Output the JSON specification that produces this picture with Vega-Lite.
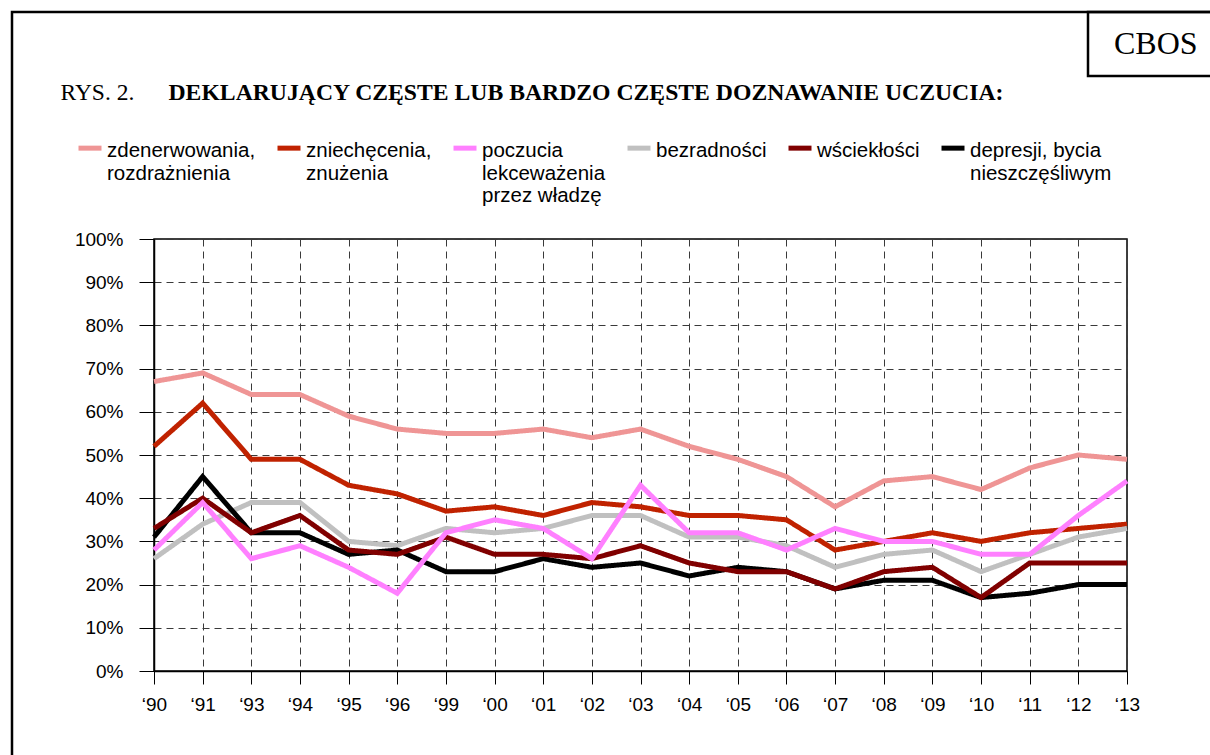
{
  "$schema": "https://vega.github.io/schema/vega-lite/v6.json",
  "width": 973,
  "height": 432,
  "autosize": {"type": "none"},
  "padding": {"left": 154, "top": 239, "right": 83, "bottom": 84},
  "background": "white",
  "config": {
    "view": {"stroke": "black", "strokeWidth": 1.5},
    "legend": {"strokeWidth": 2.5},
    "axis": {
      "labelFont": "Liberation Sans",
      "labelFontSize": 19,
      "labelColor": "black",
      "tickColor": "black",
      "tickWidth": 1,
      "domainColor": "black",
      "domainWidth": 1.5,
      "grid": true,
      "gridDash": [7, 5],
      "gridColor": "#3a3a3a",
      "gridWidth": 1
    }
  },
  "data": {
    "values": [
      {"year": "‘90", "series": "zdenerwowania, rozdrażnienia", "value": 67},
      {"year": "‘91", "series": "zdenerwowania, rozdrażnienia", "value": 69},
      {"year": "‘93", "series": "zdenerwowania, rozdrażnienia", "value": 64},
      {"year": "‘94", "series": "zdenerwowania, rozdrażnienia", "value": 64},
      {"year": "‘95", "series": "zdenerwowania, rozdrażnienia", "value": 59},
      {"year": "‘96", "series": "zdenerwowania, rozdrażnienia", "value": 56},
      {"year": "‘99", "series": "zdenerwowania, rozdrażnienia", "value": 55},
      {"year": "‘00", "series": "zdenerwowania, rozdrażnienia", "value": 55},
      {"year": "‘01", "series": "zdenerwowania, rozdrażnienia", "value": 56},
      {"year": "‘02", "series": "zdenerwowania, rozdrażnienia", "value": 54},
      {"year": "‘03", "series": "zdenerwowania, rozdrażnienia", "value": 56},
      {"year": "‘04", "series": "zdenerwowania, rozdrażnienia", "value": 52},
      {"year": "‘05", "series": "zdenerwowania, rozdrażnienia", "value": 49},
      {"year": "‘06", "series": "zdenerwowania, rozdrażnienia", "value": 45},
      {"year": "‘07", "series": "zdenerwowania, rozdrażnienia", "value": 38},
      {"year": "‘08", "series": "zdenerwowania, rozdrażnienia", "value": 44},
      {"year": "‘09", "series": "zdenerwowania, rozdrażnienia", "value": 45},
      {"year": "‘10", "series": "zdenerwowania, rozdrażnienia", "value": 42},
      {"year": "‘11", "series": "zdenerwowania, rozdrażnienia", "value": 47},
      {"year": "‘12", "series": "zdenerwowania, rozdrażnienia", "value": 50},
      {"year": "‘13", "series": "zdenerwowania, rozdrażnienia", "value": 49},

      {"year": "‘90", "series": "zniechęcenia, znużenia", "value": 52},
      {"year": "‘91", "series": "zniechęcenia, znużenia", "value": 62},
      {"year": "‘93", "series": "zniechęcenia, znużenia", "value": 49},
      {"year": "‘94", "series": "zniechęcenia, znużenia", "value": 49},
      {"year": "‘95", "series": "zniechęcenia, znużenia", "value": 43},
      {"year": "‘96", "series": "zniechęcenia, znużenia", "value": 41},
      {"year": "‘99", "series": "zniechęcenia, znużenia", "value": 37},
      {"year": "‘00", "series": "zniechęcenia, znużenia", "value": 38},
      {"year": "‘01", "series": "zniechęcenia, znużenia", "value": 36},
      {"year": "‘02", "series": "zniechęcenia, znużenia", "value": 39},
      {"year": "‘03", "series": "zniechęcenia, znużenia", "value": 38},
      {"year": "‘04", "series": "zniechęcenia, znużenia", "value": 36},
      {"year": "‘05", "series": "zniechęcenia, znużenia", "value": 36},
      {"year": "‘06", "series": "zniechęcenia, znużenia", "value": 35},
      {"year": "‘07", "series": "zniechęcenia, znużenia", "value": 28},
      {"year": "‘08", "series": "zniechęcenia, znużenia", "value": 30},
      {"year": "‘09", "series": "zniechęcenia, znużenia", "value": 32},
      {"year": "‘10", "series": "zniechęcenia, znużenia", "value": 30},
      {"year": "‘11", "series": "zniechęcenia, znużenia", "value": 32},
      {"year": "‘12", "series": "zniechęcenia, znużenia", "value": 33},
      {"year": "‘13", "series": "zniechęcenia, znużenia", "value": 34},

      {"year": "‘90", "series": "bezradności", "value": 26},
      {"year": "‘91", "series": "bezradności", "value": 34},
      {"year": "‘93", "series": "bezradności", "value": 39},
      {"year": "‘94", "series": "bezradności", "value": 39},
      {"year": "‘95", "series": "bezradności", "value": 30},
      {"year": "‘96", "series": "bezradności", "value": 29},
      {"year": "‘99", "series": "bezradności", "value": 33},
      {"year": "‘00", "series": "bezradności", "value": 32},
      {"year": "‘01", "series": "bezradności", "value": 33},
      {"year": "‘02", "series": "bezradności", "value": 36},
      {"year": "‘03", "series": "bezradności", "value": 36},
      {"year": "‘04", "series": "bezradności", "value": 31},
      {"year": "‘05", "series": "bezradności", "value": 31},
      {"year": "‘06", "series": "bezradności", "value": 29},
      {"year": "‘07", "series": "bezradności", "value": 24},
      {"year": "‘08", "series": "bezradności", "value": 27},
      {"year": "‘09", "series": "bezradności", "value": 28},
      {"year": "‘10", "series": "bezradności", "value": 23},
      {"year": "‘11", "series": "bezradności", "value": 27},
      {"year": "‘12", "series": "bezradności", "value": 31},
      {"year": "‘13", "series": "bezradności", "value": 33},

      {"year": "‘90", "series": "depresji, bycia nieszczęśliwym", "value": 31},
      {"year": "‘91", "series": "depresji, bycia nieszczęśliwym", "value": 45},
      {"year": "‘93", "series": "depresji, bycia nieszczęśliwym", "value": 32},
      {"year": "‘94", "series": "depresji, bycia nieszczęśliwym", "value": 32},
      {"year": "‘95", "series": "depresji, bycia nieszczęśliwym", "value": 27},
      {"year": "‘96", "series": "depresji, bycia nieszczęśliwym", "value": 28},
      {"year": "‘99", "series": "depresji, bycia nieszczęśliwym", "value": 23},
      {"year": "‘00", "series": "depresji, bycia nieszczęśliwym", "value": 23},
      {"year": "‘01", "series": "depresji, bycia nieszczęśliwym", "value": 26},
      {"year": "‘02", "series": "depresji, bycia nieszczęśliwym", "value": 24},
      {"year": "‘03", "series": "depresji, bycia nieszczęśliwym", "value": 25},
      {"year": "‘04", "series": "depresji, bycia nieszczęśliwym", "value": 22},
      {"year": "‘05", "series": "depresji, bycia nieszczęśliwym", "value": 24},
      {"year": "‘06", "series": "depresji, bycia nieszczęśliwym", "value": 23},
      {"year": "‘07", "series": "depresji, bycia nieszczęśliwym", "value": 19},
      {"year": "‘08", "series": "depresji, bycia nieszczęśliwym", "value": 21},
      {"year": "‘09", "series": "depresji, bycia nieszczęśliwym", "value": 21},
      {"year": "‘10", "series": "depresji, bycia nieszczęśliwym", "value": 17},
      {"year": "‘11", "series": "depresji, bycia nieszczęśliwym", "value": 18},
      {"year": "‘12", "series": "depresji, bycia nieszczęśliwym", "value": 20},
      {"year": "‘13", "series": "depresji, bycia nieszczęśliwym", "value": 20},

      {"year": "‘90", "series": "wściekłości", "value": 33},
      {"year": "‘91", "series": "wściekłości", "value": 40},
      {"year": "‘93", "series": "wściekłości", "value": 32},
      {"year": "‘94", "series": "wściekłości", "value": 36},
      {"year": "‘95", "series": "wściekłości", "value": 28},
      {"year": "‘96", "series": "wściekłości", "value": 27},
      {"year": "‘99", "series": "wściekłości", "value": 31},
      {"year": "‘00", "series": "wściekłości", "value": 27},
      {"year": "‘01", "series": "wściekłości", "value": 27},
      {"year": "‘02", "series": "wściekłości", "value": 26},
      {"year": "‘03", "series": "wściekłości", "value": 29},
      {"year": "‘04", "series": "wściekłości", "value": 25},
      {"year": "‘05", "series": "wściekłości", "value": 23},
      {"year": "‘06", "series": "wściekłości", "value": 23},
      {"year": "‘07", "series": "wściekłości", "value": 19},
      {"year": "‘08", "series": "wściekłości", "value": 23},
      {"year": "‘09", "series": "wściekłości", "value": 24},
      {"year": "‘10", "series": "wściekłości", "value": 17},
      {"year": "‘11", "series": "wściekłości", "value": 25},
      {"year": "‘12", "series": "wściekłości", "value": 25},
      {"year": "‘13", "series": "wściekłości", "value": 25},

      {"year": "‘90", "series": "poczucia lekceważenia przez władzę", "value": 28},
      {"year": "‘91", "series": "poczucia lekceważenia przez władzę", "value": 39},
      {"year": "‘93", "series": "poczucia lekceważenia przez władzę", "value": 26},
      {"year": "‘94", "series": "poczucia lekceważenia przez władzę", "value": 29},
      {"year": "‘95", "series": "poczucia lekceważenia przez władzę", "value": 24},
      {"year": "‘96", "series": "poczucia lekceważenia przez władzę", "value": 18},
      {"year": "‘99", "series": "poczucia lekceważenia przez władzę", "value": 32},
      {"year": "‘00", "series": "poczucia lekceważenia przez władzę", "value": 35},
      {"year": "‘01", "series": "poczucia lekceważenia przez władzę", "value": 33},
      {"year": "‘02", "series": "poczucia lekceważenia przez władzę", "value": 26},
      {"year": "‘03", "series": "poczucia lekceważenia przez władzę", "value": 43},
      {"year": "‘04", "series": "poczucia lekceważenia przez władzę", "value": 32},
      {"year": "‘05", "series": "poczucia lekceważenia przez władzę", "value": 32},
      {"year": "‘06", "series": "poczucia lekceważenia przez władzę", "value": 28},
      {"year": "‘07", "series": "poczucia lekceważenia przez władzę", "value": 33},
      {"year": "‘08", "series": "poczucia lekceważenia przez władzę", "value": 30},
      {"year": "‘09", "series": "poczucia lekceważenia przez władzę", "value": 30},
      {"year": "‘10", "series": "poczucia lekceważenia przez władzę", "value": 27},
      {"year": "‘11", "series": "poczucia lekceważenia przez władzę", "value": 27},
      {"year": "‘12", "series": "poczucia lekceważenia przez władzę", "value": 36},
      {"year": "‘13", "series": "poczucia lekceważenia przez władzę", "value": 44}
    ]
  },
  "mark": {"type": "line", "strokeWidth": 5},
  "encoding": {
    "x": {
      "field": "year",
      "type": "ordinal",
      "sort": ["‘90", "‘91", "‘93", "‘94", "‘95", "‘96", "‘99", "‘00", "‘01", "‘02", "‘03", "‘04", "‘05", "‘06", "‘07", "‘08", "‘09", "‘10", "‘11", "‘12", "‘13"],
      "scale": {"type": "point", "padding": 0},
      "axis": {
        "labelAngle": 0,
        "labelPadding": 11,
        "tickSize": 13,
        "title": "DEKLARUJĄCY CZĘSTE LUB BARDZO CZĘSTE DOZNAWANIE UCZUCIA:",
        "titleFont": "Liberation Serif",
        "titleFontSize": 23.7,
        "titleFontWeight": "bold",
        "titleColor": "black",
        "titleAlign": "left",
        "titleBaseline": "alphabetic",
        "titleX": 14,
        "titleY": -572
      }
    },
    "y": {
      "field": "value",
      "type": "quantitative",
      "scale": {"domain": [0, 100]},
      "axis": {
        "values": [0, 10, 20, 30, 40, 50, 60, 70, 80, 90, 100],
        "labelExpr": "datum.value + '%'",
        "tickSize": 15,
        "labelPadding": 16,
        "title": "RYS. 2.",
        "titleAngle": 0,
        "titleFont": "Liberation Serif",
        "titleFontSize": 23.5,
        "titleFontWeight": "normal",
        "titleColor": "black",
        "titleAlign": "left",
        "titleBaseline": "alphabetic",
        "titleX": -94,
        "titleY": -140
      }
    },
    "color": {
      "field": "series",
      "type": "nominal",
      "scale": {
        "domain": ["zdenerwowania, rozdrażnienia", "zniechęcenia, znużenia", "poczucia lekceważenia przez władzę", "bezradności", "wściekłości", "depresji, bycia nieszczęśliwym"],
        "range": ["#EF9595", "#C02200", "#FF80FF", "#C0C0C0", "#800000", "#000000"]
      },
      "legend": {
        "title": null,
        "orient": "none",
        "legendX": -78,
        "legendY": -112,
        "direction": "horizontal",
        "columns": 6,
        "columnPadding": 11,
        "padding": 0,
        "symbolType": "M-1,0.6H1",
        "symbolSize": 529,
        "symbolStrokeWidth": 5,
        "labelOffset": 3,
        "labelFont": "Liberation Sans",
        "labelFontSize": 20.5,
        "labelColor": "black",
        "labelLimit": 400,
        "labelBaseline": "top",
        "labelExpr": "datum.label == 'zdenerwowania, rozdrażnienia' ? ['zdenerwowania,', 'rozdrażnienia', ' '] : datum.label == 'zniechęcenia, znużenia' ? ['zniechęcenia,', 'znużenia', ' '] : datum.label == 'poczucia lekceważenia przez władzę' ? ['poczucia', 'lekceważenia', 'przez władzę'] : datum.label == 'depresji, bycia nieszczęśliwym' ? ['depresji, bycia', 'nieszczęśliwym', ' '] : [datum.label, ' ', ' ']"
      }
    },
    "strokeDash": {
      "datum": "CBOS",
      "type": "nominal",
      "scale": {"range": [[1, 0]]},
      "legend": {
        "title": null,
        "orient": "none",
        "legendX": 934,
        "legendY": -227,
        "padding": 16,
        "strokeColor": "black",
        "symbolOpacity": 0,
        "symbolSize": 0,
        "symbolStrokeWidth": 0,
        "labelOffset": -22,
        "labelFont": "Liberation Serif",
        "labelFontSize": 32,
        "labelColor": "black",
        "labelExpr": "datum.label + '\u00a0\u00a0\u00a0'"
      }
    },
    "strokeWidth": {
      "datum": 5,
      "type": "quantitative",
      "scale": {"domain": [0, 10], "range": [0, 10]},
      "legend": {
        "title": null,
        "orient": "none",
        "legendX": -142,
        "legendY": -227,
        "padding": 600,
        "strokeColor": "black",
        "values": [5],
        "labelExpr": "''",
        "symbolOpacity": 0
      }
    }
  }
}
